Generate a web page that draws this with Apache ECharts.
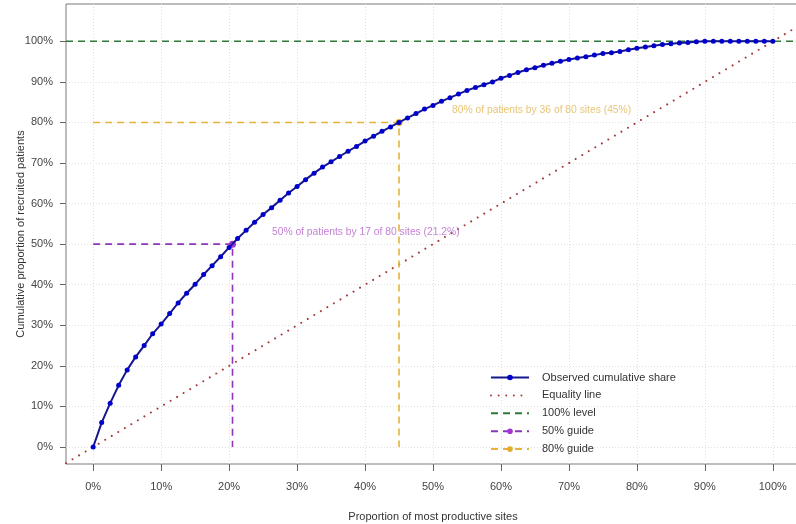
<!DOCTYPE html>
<html>
<head>
<meta charset="utf-8">
<script src="https://cdn.jsdelivr.net/npm/echarts@6/dist/echarts.min.js"></script>
<style>html,body{margin:0;padding:0;background:#fff}#chart{width:796px;height:524px}</style>
</head>
<body>
<div id="chart"></div>
<script>
// Number of sites
const nSites = 80;
// Cumulative share of recruited patients (%) after k most productive sites, k = 0..80
const cumShare = [
  0, 6.0, 10.8, 15.2, 19.0, 22.2, 25.0, 27.9, 30.3, 32.9,
  35.5, 37.9, 40.1, 42.5, 44.7, 46.9, 49.2, 51.4, 53.4, 55.4,
  57.3, 59.0, 60.8, 62.6, 64.2, 65.9, 67.5, 69.0, 70.3, 71.6,
  72.9, 74.1, 75.4, 76.6, 77.8, 78.9, 80.0, 81.1, 82.2, 83.3,
  84.2, 85.2, 86.1, 87.0, 87.9, 88.6, 89.3, 90.0, 90.9, 91.6,
  92.3, 93.0, 93.5, 94.1, 94.6, 95.1, 95.5, 95.9, 96.2, 96.6,
  97.0, 97.2, 97.5, 97.9, 98.3, 98.6, 98.9, 99.2, 99.4, 99.6,
  99.7, 99.9, 100, 100, 100, 100, 100, 100, 100, 100, 100
];
// Axis ranges and ticks (%)
const xRange = [-4, 104];
const yRange = [-4.2, 109.2];
const xTicks = [0, 10, 20, 30, 40, 50, 60, 70, 80, 90, 100];
const yTicks = [0, 10, 20, 30, 40, 50, 60, 70, 80, 90, 100];
// Guides: [x at crossing, level]
const guide50 = [20.5, 50];
const guide80 = [45, 80];
const fullLevel = 100;
// Annotations: [x, y, text]
const note50 = [26.3, 53, '50% of patients by 17 of 80 sites (21.2%)'];
const note80 = [52.8, 83, '80% of patients by 36 of 80 sites (45%)'];
const legendNames = ['Observed cumulative share', 'Equality line', '100% level', '50% guide', '80% guide'];

const FONT = '"Liberation Sans", Arial, sans-serif';
const observed = cumShare.map((v, k) => [k / nSites * 100, v]);

const C = {
  obsPt: '#0000cd', obsLine: '#16168f',
  eq: '#a63a3a', full: '#2c7a35',
  g50: '#8e36b8', g50pt: '#a334d6',
  g80: '#e6b23a', g80pt: '#e5ab2a'
};

function guideData(g) {
  return [
    { value: [0, g[1]], symbol: 'none' },
    { value: [g[0], g[1]] },
    { value: [g[0], 0], symbol: 'none' }
  ];
}

const chart = echarts.init(document.getElementById('chart'), null, { renderer: 'canvas' });
chart.setOption({
  animation: false,
  backgroundColor: '#ffffff',
  textStyle: { fontFamily: FONT },
  grid: { left: 66, top: 4, width: 734, height: 460, show: true, borderColor: '#7a7a7a', borderWidth: 1,
          containLabel: false, outerBoundsMode: 'none' },
  xAxis: {
    type: 'value', min: xRange[0], max: xRange[1],
    name: 'Proportion of most productive sites', nameLocation: 'middle', nameGap: 47, nameMoveOverlap: false,
    nameTextStyle: { fontFamily: FONT, fontSize: 11, color: '#333' },
    axisLine: { show: false, onZero: false },
    axisTick: { show: true, length: 7, customValues: xTicks, lineStyle: { color: '#666' } },
    axisLabel: { customValues: xTicks, formatter: v => v + '%', margin: 17, fontFamily: FONT, fontSize: 11, color: '#444' },
    splitLine: { show: true, lineStyle: { color: '#e0e0e0', type: [1, 2], width: 1 } }
  },
  yAxis: {
    type: 'value', min: yRange[0], max: yRange[1],
    name: 'Cumulative proportion of recruited patients', nameLocation: 'middle', nameGap: 40, nameRotate: 90, nameMoveOverlap: false,
    nameTextStyle: { fontFamily: FONT, fontSize: 11, color: '#333' },
    axisLine: { show: false, onZero: false },
    axisTick: { show: true, length: 6, customValues: yTicks, lineStyle: { color: '#666' } },
    axisLabel: { customValues: yTicks, formatter: v => v + '%', margin: 13, fontFamily: FONT, fontSize: 11, color: '#444' },
    splitLine: { show: true, lineStyle: { color: '#e0e0e0', type: [1, 2], width: 1 } }
  },
  legend: {
    data: [
      { name: legendNames[0], itemStyle: { color: C.obsPt } },
      { name: legendNames[1], itemStyle: { opacity: 0 } },
      { name: legendNames[2], itemStyle: { opacity: 0 } },
      { name: legendNames[3], itemStyle: { color: C.g50pt } },
      { name: legendNames[4], itemStyle: { color: C.g80pt } }
    ],
    orient: 'vertical', left: 485, top: 367,
    itemWidth: 38, itemHeight: 7, itemGap: 6.9,
    textStyle: { fontFamily: FONT, fontSize: 11, color: '#333', padding: [0, 0, 0, 8] },
    selectedMode: false
  },
  series: [
    {
      name: 'Equality line', type: 'line', data: [[xRange[0], xRange[0]], [xRange[1], xRange[1]]],
      symbol: 'none', itemStyle: { color: C.eq },
      lineStyle: { color: C.eq, width: 2, type: [0.01, 7.6], cap: 'round' }, z: 2, silent: true
    },
    {
      name: '100% level', type: 'line', data: [[xRange[0], fullLevel], [xRange[1], fullLevel]],
      symbol: 'none', itemStyle: { color: C.full },
      lineStyle: { color: C.full, width: 1.6, type: [7, 5] }, z: 3, silent: true
    },
    {
      name: '50% guide', type: 'line', data: guideData(guide50),
      symbol: 'circle', symbolSize: 7, itemStyle: { color: C.g50pt },
      lineStyle: { color: C.g50, width: 1.6, type: [7, 5] }, z: 4, silent: true
    },
    {
      name: '80% guide', type: 'line', data: guideData(guide80),
      symbol: 'circle', symbolSize: 7, itemStyle: { color: C.g80pt },
      lineStyle: { color: C.g80, width: 1.6, type: [7, 5] }, z: 4, silent: true
    },
    {
      name: 'Observed cumulative share', type: 'line', data: observed,
      symbol: 'circle', symbolSize: 5, showAllSymbol: true,
      itemStyle: { color: C.obsPt }, lineStyle: { color: C.obsLine, width: 2 }, z: 5, silent: true
    },
    {
      name: 'note50', type: 'scatter', data: [[note50[0], note50[1]]], symbolSize: 0, silent: true,
      label: { show: true, position: 'right', distance: 0, formatter: note50[2], fontFamily: FONT, fontSize: 10.3, color: '#b563c9' }
    },
    {
      name: 'note80', type: 'scatter', data: [[note80[0], note80[1]]], symbolSize: 0, silent: true,
      label: { show: true, position: 'right', distance: 0, formatter: note80[2], fontFamily: FONT, fontSize: 10.3, color: '#e2b553' }
    }
  ]
});
</script>
</body>
</html>
